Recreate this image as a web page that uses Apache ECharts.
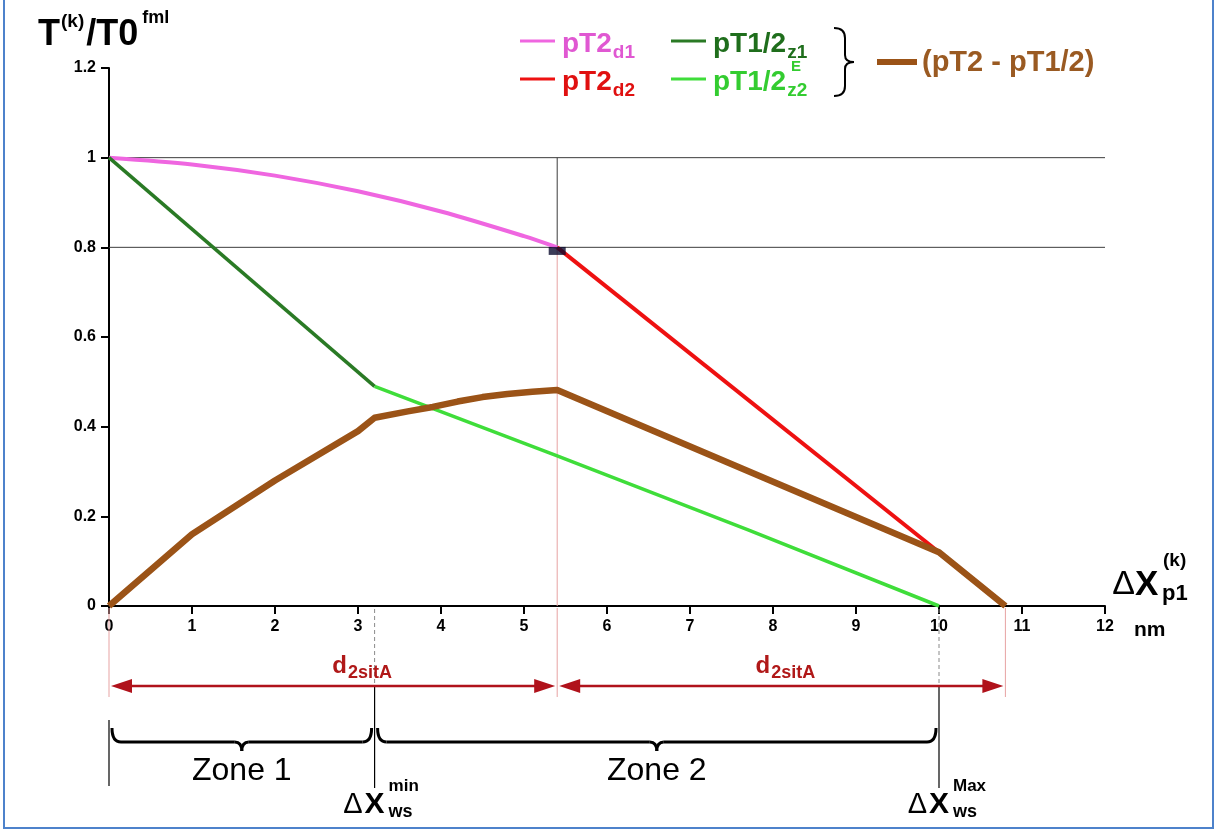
<!DOCTYPE html>
<html><head><meta charset="utf-8">
<script src="https://cdn.jsdelivr.net/npm/echarts@6/dist/echarts.min.js"></script>
<style>html,body{margin:0;padding:0;background:#fff}#c{width:1217px;height:831px}</style>
</head><body><div id="c"></div>
<script>
// ---------- data ----------
const xTickValues = [0,1,2,3,4,5,6,7,8,9,10,11,12];
const yTickLabels = ['0','0.2','0.4','0.6','0.8','1','1.2'];
const pT2d1X = [0, 1, 2, 3, 4, 5, 5.4];
const pT2d1Y = [1, 0.985, 0.96, 0.925, 0.88, 0.825, 0.8];
const pT2d2X = [5.4, 10];
const pT2d2Y = [0.8, 0.12];
const pT12z1X = [0, 3.2];
const pT12z1Y = [1, 0.49];
const pT12z2X = [3.2, 5.4, 7.7, 10];
const pT12z2Y = [0.49, 0.335, 0.17, 0];
const diffX = [0, 1, 2, 3, 3.2, 3.6, 3.9, 4.2, 4.5, 4.8, 5.1, 5.4, 10, 10.8];
const diffY = [0, 0.16, 0.28, 0.39, 0.42, 0.434, 0.444, 0.456, 0.466, 0.473, 0.478, 0.482, 0.12, 0];
const refLevels = [1, 0.8];
const splitX = 5.4;
const markerPoint = [5.4, 0.792];
const zoneBounds = [0, 3.2, 10];
const arrowStops = [0, 5.4, 10.8];
const arrowLabelXs = [3.05, 8.15];
const zoneNames = ['Zone 1', 'Zone 2'];
const wsSup = ['min', 'Max'];

const FF = '"Liberation Sans", Arial, Helvetica, sans-serif';
const zip = (xs, ys) => xs.map((x, i) => [x, ys[i]]);

const chart = echarts.init(document.getElementById('c'), null, {renderer: 'canvas'});

const series = [];
refLevels.forEach(l => series.push({type:'line', data:[[0,l],[12,l]], showSymbol:false, silent:true, z:1,
  lineStyle:{color:'#3c3c3c', width:1}}));
series.push({type:'line', data:[[splitX, refLevels[1]],[splitX, refLevels[0]]], showSymbol:false, z:1, lineStyle:{color:'#3c3c3c', width:1}});
series.push({type:'line', data:[[splitX, 0],[splitX, refLevels[1]]], showSymbol:false, z:1, lineStyle:{color:'#e7a3a3', width:1}});
series.push({name:'pT2d1', type:'line', data:zip(pT2d1X,pT2d1Y), showSymbol:false, smooth:0.3, z:3, lineStyle:{color:'#ef66e0', width:4}});
series.push({name:'pT2d2', type:'line', data:zip(pT2d2X,pT2d2Y), showSymbol:false, z:3, lineStyle:{color:'#ee1111', width:4}});
series.push({name:'pT12z1', type:'line', data:zip(pT12z1X,pT12z1Y), showSymbol:false, z:3, lineStyle:{color:'#2a7a25', width:3.5}});
series.push({name:'pT12z2', type:'line', data:zip(pT12z2X,pT12z2Y), showSymbol:false, z:3, lineStyle:{color:'#3fdd3a', width:3.5}});
series.push({name:'diff', type:'line', data:zip(diffX,diffY), showSymbol:false, z:4, lineStyle:{color:'#9b5317', width:6.5, join:'round'}});
series.push({type:'scatter', data:[markerPoint], symbol:'rect', symbolSize:[17,8], z:6, itemStyle:{color:'#0b0b2e'}});

chart.setOption({
  animation:false,
  grid:{left:109, right:112, top:68, bottom:225, containLabel:false, outerBoundsMode:'none'},
  xAxis:{type:'value', min:0, max:12, interval:1,
    axisLine:{lineStyle:{color:'#000', width:2}},
    axisTick:{show:true, length:8, lineStyle:{color:'#000', width:2}},
    axisLabel:{color:'#000', fontSize:16, fontWeight:'bold', fontFamily:FF, margin:13,
      formatter:v => String(xTickValues[Math.round(v)])},
    splitLine:{show:false}},
  yAxis:{type:'value', min:0, max:1.2, interval:0.2,
    axisLine:{show:true, lineStyle:{color:'#000', width:2}},
    axisTick:{show:true, length:8, lineStyle:{color:'#000', width:2}},
    axisLabel:{color:'#000', fontSize:16, fontWeight:'bold', fontFamily:FF, margin:13,
      formatter:v => yTickLabels[Math.round(v/0.2)]},
    splitLine:{show:false}},
  series
});

// ---------- annotations ----------
const px = v => chart.convertToPixel({xAxisIndex:0}, v);
const py = v => chart.convertToPixel({yAxisIndex:0}, v);
const y0 = py(0);
const G = [];
const ln = (x1,y1,x2,y2,color,w,dash) => G.push({type:'line', silent:true, z:10,
  shape:{x1,y1,x2,y2}, style:{stroke:color, lineWidth:w, lineDash:dash||null}});
const qc = (x1,y1,cx,cy,x2,y2,color,w) => G.push({type:'bezierCurve', silent:true, z:10,
  shape:{x1,y1,cpx1:cx,cpy1:cy,x2,y2}, style:{stroke:color, lineWidth:w, fill:null}});
const poly = (pts,color) => G.push({type:'polygon', silent:true, z:10, shape:{points:pts}, style:{fill:color}});
const tx = (x,y,text,style) => G.push({type:'text', silent:true, z:10, x, y,
  style:Object.assign({text, fontFamily:FF, fill:'#000', align:'left', verticalAlign:'middle'}, style)});
const tok = (size, color, weight, pad) => ({fontSize:size, fontWeight:weight||'bold', fontFamily:FF, fill:color, verticalAlign:'middle', padding:pad||[0,0,0,0]});

// frame
G.push({type:'rect', silent:true, z:0, shape:{x:4, y:-4, width:1209, height:832}, style:{fill:null, stroke:'#4d82cb', lineWidth:2}});

// light red verticals below axis
arrowStops.forEach(v => ln(px(v), y0+2, px(v), y0+91, '#e7a3a3', 1));
// dashed verticals
[zoneBounds[1], zoneBounds[2]].forEach(v => ln(px(v), y0+3, px(v), y0+78, '#8a8a8a', 1, [4,3]));
// black zone verticals
ln(px(zoneBounds[0]), y0+114, px(zoneBounds[0]), y0+180, '#000', 1.2);
[zoneBounds[1], zoneBounds[2]].forEach(v => ln(px(v), y0+80, px(v), y0+182, '#000', 1.2));

// double arrows
const AY = y0 + 80, AC = '#b0121b';
for (let i = 0; i < 2; i++) {
  const a = px(arrowStops[i]) + 2, b = px(arrowStops[i+1]) - 2;
  ln(a+10, AY, b-10, AY, AC, 2.5);
  poly([[a,AY],[a+21,AY-7],[a+21,AY+7]], AC);
  poly([[b,AY],[b-21,AY-7],[b-21,AY+7]], AC);
  tx(px(arrowLabelXs[i]), AY-20, '{d|d}{s|2sitA}', {align:'center',
    rich:{d:tok(24,'#b01818'), s:tok(18,'#b01818','bold',[14,0,0,1])}});
}

// braces
const BY = y0 + 136;
function brace(xa, xb) {
  const xm = (xa + xb) / 2, W = 3;
  qc(xa, BY-14, xa, BY, xa+9, BY, '#000', W);
  ln(xa+9, BY, xm-7, BY, '#000', W);
  qc(xm-7, BY, xm, BY, xm, BY+9, '#000', W);
  qc(xm, BY+9, xm, BY, xm+7, BY, '#000', W);
  ln(xm+7, BY, xb-9, BY, '#000', W);
  qc(xb-9, BY, xb, BY, xb, BY-14, '#000', W);
  return xm;
}
for (let i = 0; i < 2; i++) {
  const xm = brace(px(zoneBounds[i]) + 3, px(zoneBounds[i+1]) - 3);
  tx(xm, y0 + 165, zoneNames[i], {align:'center', fontSize:32, fontWeight:'normal'});
}
// ΔX_ws labels
[zoneBounds[1], zoneBounds[2]].forEach((v, i) => {
  const xv = px(v);
  tx(xv - 12, y0 + 199, 'Δ', {align:'right', fontSize:29, fontWeight:'normal'});
  tx(xv, y0 + 199, 'X', {align:'center', fontSize:30, fontWeight:'bold'});
  tx(xv + 14, y0 + 180, wsSup[i], {fontSize:17, fontWeight:'bold'});
  tx(xv + 14, y0 + 206, 'ws', {fontSize:18, fontWeight:'bold'});
});

// y axis title
tx(38, 35, '{a|T}{s|(k)}{a|/T0}{f|fml}', {rich:{a:tok(36,'#000'), s:tok(19,'#000','bold',[0,2,26,1]), f:tok(18,'#000','bold',[0,0,34,4])}});
// x axis title
tx(1135, 585, 'Δ', {align:'right', fontSize:34, fontWeight:'normal'});
tx(1135, 585, 'X', {fontSize:35, fontWeight:'bold'});
tx(1163, 561, '(k)', {fontSize:19, fontWeight:'bold'});
tx(1162, 594, 'p1', {fontSize:22, fontWeight:'bold'});
tx(1134, 630, 'nm', {fontSize:21, fontWeight:'bold'});

// legend
const LG = [
  {x:520, y:41, c:'#ef66e0', tc:'#e058d2', m:'pT2', s:'d1'},
  {x:520, y:79, c:'#ee1111', tc:'#e01010', m:'pT2', s:'d2'},
  {x:671, y:41, c:'#2a7a25', tc:'#1f6e1c', m:'pT1/2', s:'z1'},
  {x:671, y:79, c:'#3fdd3a', tc:'#33cc30', m:'pT1/2', s:'z2'}
];
LG.forEach(e => {
  ln(e.x, e.y, e.x+35, e.y, e.c, 3);
  tx(e.x+42, e.y+3, `{m|${e.m}}{s|${e.s}}`, {rich:{m:tok(28,e.tc), s:tok(19,e.tc,'bold',[17,0,0,1])}});
});
tx(791, 67, 'E', {fontSize:15, fontWeight:'bold', fill:'#33cc30'});
// legend bracket
qc(834, 28, 845, 28, 845, 38, '#000', 2);
ln(845, 38, 845, 55, '#000', 2);
qc(845, 55, 845, 62, 854, 62, '#000', 2);
qc(854, 62, 845, 62, 845, 69, '#000', 2);
ln(845, 69, 845, 86, '#000', 2);
qc(845, 86, 845, 96, 834, 96, '#000', 2);
ln(877, 62, 917, 62, '#9b5317', 6);
tx(922, 63, '(pT2 - pT1/2)', {fontSize:29, fontWeight:'bold', fill:'#9a5a22'});

chart.setOption({graphic:G});
</script></body></html>
